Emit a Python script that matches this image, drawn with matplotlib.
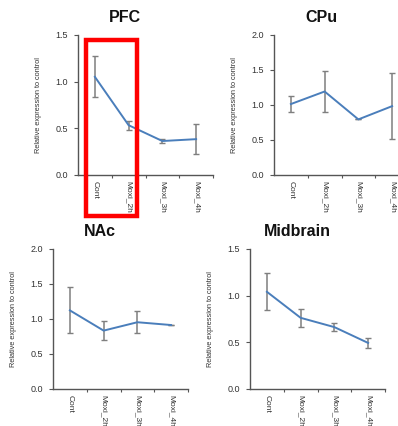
import matplotlib
matplotlib.use("Agg")
import matplotlib.pyplot as plt
from matplotlib.patches import Rectangle

plt.rcParams['font.family'] = ['Liberation Sans', 'DejaVu Sans']

categories = ["Cont", "Moxi_2h", "Moxi_3h", "Moxi_4h"]

pfc_mean = [1.05, 0.53, 0.36, 0.38]
pfc_err = [0.22, 0.05, 0.02, 0.16]

cpu_mean = [1.01, 1.19, 0.79, 0.98]
cpu_err = [0.12, 0.29, 0.0, 0.47]

nac_mean = [1.12, 0.83, 0.95, 0.91]
nac_err = [0.33, 0.14, 0.155, 0.0]

mid_mean = [1.04, 0.76, 0.66, 0.49]
mid_err = [0.20, 0.10, 0.04, 0.055]

titles = ["PFC", "CPu", "NAc", "Midbrain"]
ylims = [1.5, 2.0, 2.0, 1.5]

W, H = 398, 426
fig = plt.figure(figsize=(W / 100, H / 100), dpi=100)

# (left px, top px) of axes, plus title centre
panels = [
    (78, 35, 125, 17, pfc_mean, pfc_err),
    (274, 35, 321, 18, cpu_mean, cpu_err),
    (53, 249, 100, 231, nac_mean, nac_err),
    (250, 249, 297, 231, mid_mean, mid_err),
]
aw, ah = 135, 139.5
axcol = '#555555'
txtcol = '#333333'

for (lx, ty, tx, tty, mean, err), title, ymax in zip(panels, titles, ylims):
    ax = fig.add_axes([lx / W, 1 - (ty + ah) / H, aw / W, ah / H])
    x = list(range(len(categories)))
    ax.errorbar(x, mean, yerr=err, fmt='none', ecolor='#7f7f7f', elinewidth=1.1,
                capsize=2.2, capthick=1.0, zorder=2)
    ax.plot(x, mean, color='#4a7ebb', lw=1.4, zorder=3)
    ax.set_xlim(-0.5, 3.5)
    ax.set_ylim(0, ymax)
    ax.set_yticks([i * 0.5 for i in range(int(ymax / 0.5) + 1)])
    ax.set_yticklabels([f"{i * 0.5:.1f}" for i in range(int(ymax / 0.5) + 1)],
                       fontsize=6.5, color=txtcol)
    ax.set_xticks([0.5, 1.5, 2.5, 3.5])
    ax.set_xticklabels([])
    ax.set_xticks(x, minor=True)
    ax.set_xticklabels(categories, minor=True, rotation=-90, fontsize=6.0,
                       color=txtcol, va='top', ha='center')
    ax.tick_params(axis='x', which='minor', length=0, pad=4.5)
    ax.tick_params(axis='x', which='major', length=2, width=0.8, color=axcol, direction='out')
    ax.tick_params(axis='y', length=3, width=0.8, color=axcol, pad=4)
    for s in ['top', 'right']:
        ax.spines[s].set_visible(False)
    for s in ['left', 'bottom']:
        ax.spines[s].set_color(axcol)
        ax.spines[s].set_linewidth(1.0)
    ax.set_ylabel("Relative expression to control", fontsize=5.3, color=txtcol)
    ax.yaxis.set_label_coords(-36 / aw, 0.5)
    fig.text(tx / W, 1 - tty / H, title, fontsize=11.5, fontweight='bold',
             ha='center', va='center', color='#111111')

# red highlight box
rx0, rx1, ry0, ry1 = 85.5, 137, 40.5, 215.5
fig.patches.append(Rectangle((rx0 / W, 1 - ry1 / H), (rx1 - rx0) / W, (ry1 - ry0) / H,
                             transform=fig.transFigure, fill=False,
                             edgecolor='#ff0000', linewidth=3.2, zorder=10))

fig.savefig("out.png", dpi=100)
